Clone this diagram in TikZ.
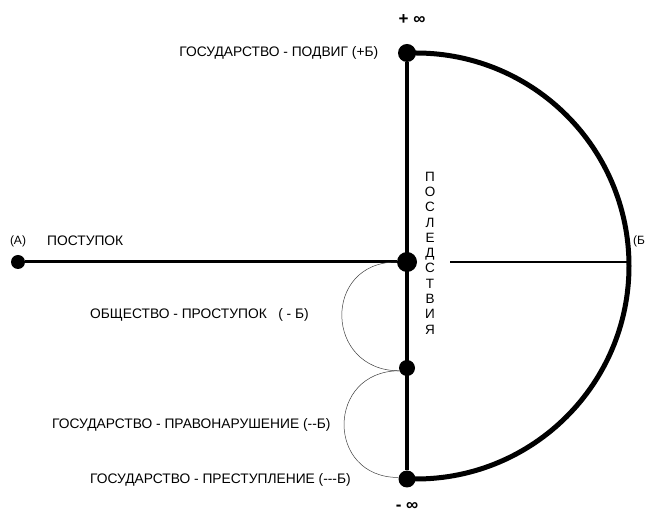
\documentclass[tikz,border=0pt]{standalone}
\usepackage{fontspec}
\setmainfont{Liberation Sans}
\usetikzlibrary{positioning}

\begin{document}
\begin{tikzpicture}[x=1pt, y=1pt,
  font=\fontsize{13.8}{16}\selectfont,
  dot/.style={circle, fill=black, inner sep=0pt, minimum size=18pt},
  lbl/.style={inner sep=0pt, anchor=west},
  small/.style={font=\fontsize{12}{14}\selectfont},
  heavy/.style={line width=4pt},
  loopline/.style={line width=0.5pt, black!75}
]
\useasboundingbox (0,0) rectangle (651,522);
% points on the axis
\node[dot] (top) at (407,469) {};
\node[dot, minimum size=20pt] (mid) at (407,260) {};
\node[dot, minimum size=16pt] (low) at (407,154) {};
\node[dot, minimum size=17pt] (bot) at (407,43) {};
\node[dot, minimum size=14pt] (a) at (18,260) {};
\coordinate (b) at (630,260);
\coordinate (inner) at (450,260);

% lines
\draw[line width=3pt] (a) -- (mid);
\draw[heavy] (top) -- (bot);
\draw[line width=5pt] (top.center) -- (416,469) arc[start angle=90, end angle=-90, radius=213] -- (bot.center);
\draw[line width=2.5pt] (inner) -- (b);
\draw[loopline] (mid.west) to[out=180, in=180, looseness=1.76] (low.200);
\draw[loopline] (low.200) to[out=180, in=180, looseness=1.75] (bot.170);

% texts
\node[font=\fontsize{17}{19}\selectfont\bfseries] (plus) at (412,502) {+ ∞};
\node[font=\fontsize{17}{19}\selectfont\bfseries] (minus) at (407,15) {- ∞};
\node[left=16pt of top] (feat) {ГОСУДАРСТВО - ПОДВИГ (+Б)};
\node[small, above=4pt of a] (alabel) {(А)};
\node[lbl] (act) at (47,281) {ПОСТУПОК};
\node[small, lbl] (blabel) at (633,281) {(Б};
\node[align=center, font=\fontsize{13.5}{15.3}\selectfont] (conseq) at (430,269) {П\\О\\С\\Л\\Е\\Д\\С\\Т\\В\\И\\Я};
\node[lbl] (misd) at (90,207) {ОБЩЕСТВО - ПРОСТУПОК \ \ ( - Б)};
\node[lbl] (offence) at (52,97) {ГОСУДАРСТВО - ПРАВОНАРУШЕНИЕ (-{}-Б)};
\node[lbl] (crime) at (90,42) {ГОСУДАРСТВО - ПРЕСТУПЛЕНИЕ (-{}-{}-Б)};
\end{tikzpicture}
\end{document}
